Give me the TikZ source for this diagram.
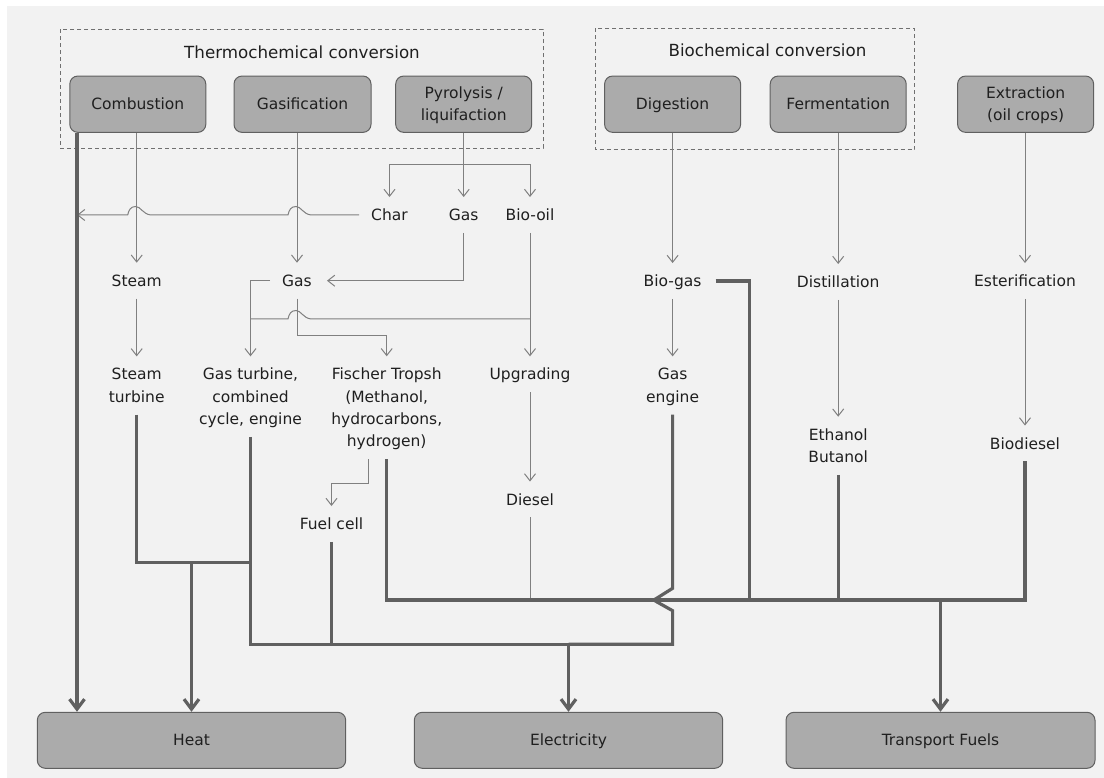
\documentclass[tikz,border=0pt]{standalone}
\usepackage{fontspec}
\setmainfont{DejaVu Sans}
\usetikzlibrary{arrows.meta,calc}
\definecolor{bggray}{HTML}{F2F2F2}
\definecolor{boxfill}{HTML}{ABABAB}
\definecolor{boxline}{HTML}{606060}
\definecolor{thinc}{HTML}{808080}
\definecolor{thickc}{HTML}{606060}
\definecolor{txt}{HTML}{1F1F1F}
\definecolor{framec}{HTML}{707070}
\newcommand\bodyfont{\fontsize{15.5}{22.3}\selectfont}
\newcommand\titlefont{\fontsize{16.7}{22.3}\selectfont}
\newcommand\lnst{\rule[-5.55pt]{0pt}{22.3pt}}
\begin{document}
\begin{tikzpicture}[x=1pt,y=-1pt,
  proc/.style={draw=boxline, fill=boxfill, line width=1pt, rounded corners=8pt,
    minimum width=136pt, minimum height=56.3pt, inner sep=0pt, align=center,
    font=\bodyfont, text=txt},
  sink/.style={proc, minimum width=308.4pt, minimum height=56pt},
  lbl/.style={inner xsep=12pt, inner ysep=0pt, align=center, font=\bodyfont,
    text=txt, minimum height={(#1-1)*22.3pt+35.5pt}},
  lbl/.default=1,
  ttl/.style={font=\titlefont, text=txt, inner sep=0pt},
  frame/.style={draw=framec, line width=1pt, dash pattern=on 4pt off 3pt},
  thinln/.style={draw=thinc, line width=1pt},
  thinarr/.style={thinln, -{Straight Barb[length=7pt,width=11pt]}},
  thickln/.style={draw=thickc, line width=3.2pt},
  thickarr/.style={thickln, -{Straight Barb[length=10pt,width=15pt]}},
  hop/.style={insert path={-- ($(#1)+(14,0)$) .. controls +(-8,-1) and +(5,0) .. ($(#1)+(-1,-8.5)$) .. controls +(-5,0) and +(1,-5) .. ($(#1)+(-9,0)$)}}
]
\useasboundingbox (0,0) rectangle (1104,778);
\fill[white] (0,0) rectangle (1104,778);
\fill[bggray] (7,6) rectangle (1104,778);

% group frames
\draw[frame] (60,29.5) rectangle (543,148.5);
\draw[frame] (595,28.5) rectangle (914.5,150);
\node[ttl] (ttherm) at (302,52) {Thermochemical conversion};
\node[ttl] (tbio) at (767.5,50.5) {Biochemical conversion};

% process boxes
\node[proc] (comb) at (137.8,104.2) {\lnst Combustion};
\node[proc, minimum width=137pt] (gasi) at (302.5,104.2) {\lnst Gasification};
\node[proc] (pyro) at (463.7,104.2) {\lnst Pyrolysis /\\\lnst liquifaction};
\node[proc] (dige) at (672.6,104.2) {\lnst Digestion};
\node[proc] (ferm) at (838.2,104.2) {\lnst Fermentation};
\node[proc] (extr) at (1025.6,104.2) {\lnst Extraction\\\lnst (oil crops)};

% output boxes
\node[sink] (heat) at (191.5,740.3) {\lnst Heat};
\node[sink] (elec) at (568.5,740.3) {\lnst Electricity};
\node[sink, minimum width=309pt] (trans) at (940.5,740.3) {\lnst Transport Fuels};

% intermediate labels
\node[lbl] (char) at (389.5,215) {\lnst Char};
\node[lbl] (gas2) at (463.7,215) {\lnst Gas};
\node[lbl] (biooil) at (530,215) {\lnst Bio-oil};
\node[lbl] (steam) at (136.7,280.7) {\lnst Steam};
\node[lbl] (gas) at (297,280.7) {\lnst Gas};
\node[lbl] (biogas) at (672.6,281) {\lnst Bio-gas};
\node[lbl] (dist) at (838.2,282) {\lnst Distillation};
\node[lbl] (ester) at (1025,281) {\lnst Esterification};
\node[lbl=2] (stturb) at (136.7,385.5) {\lnst Steam\\\lnst turbine};
\node[lbl=3] (gasturb) at (250.5,396.6) {\lnst Gas turbine,\\\lnst combined\\\lnst cycle, engine};
\node[lbl=4] (fischer) at (386.7,407.7) {\lnst Fischer Tropsh\\\lnst (Methanol,\\\lnst hydrocarbons,\\\lnst hydrogen)};
\node[lbl] (upgr) at (530,374.3) {\lnst Upgrading};
\node[lbl=2] (gaseng) at (672.6,385.5) {\lnst Gas\\\lnst engine};
\node[lbl=2] (ethanol) at (838.2,445.8) {\lnst Ethanol\\\lnst Butanol};
\node[lbl] (biodiesel) at (1025,443.5) {\lnst Biodiesel};
\node[lbl] (fuelcell) at (331.5,524) {\lnst Fuel cell};
\node[lbl] (diesel) at (530,499.5) {\lnst Diesel};

% junction coordinates
\coordinate (pyrojn) at (463.7,164.5);
\coordinate (biojn) at (530,319);
\coordinate (gsplit) at (297,335.7);
\coordinate (fcjn) at (368.2,483.3);
\coordinate (hsplit) at (191.5,562.7);
\coordinate (esplit) at (568.5,644.3);
\coordinate (tsplit) at (940.5,600);
\coordinate (bgturn) at (749.5,281);
\coordinate (combx) at (77,0);
\coordinate (h1) at (char.west -| gas);
\coordinate (h2) at (char.west -| steam);
\coordinate (h3) at (biojn -| gas);
\coordinate (jgc) at (gaseng.south |- tsplit);

% thin connectors
\draw[thinarr] (comb.south -| steam) -- (steam.north);
\draw[thinarr] (gasi.south -| gas) -- (gas.north);
\draw[thinarr] (pyro.south) -- (gas2.north);
\draw[thinarr] (pyrojn) -| (char.north);
\draw[thinarr] (pyrojn) -| (biooil.north);
\draw[thinarr] (char.west) [hop=h1] [hop=h2] -- (char.west -| combx);
\draw[thinarr] (gas2.south) |- ([xshift=3pt]gas.east);
\draw[thinarr] (gas.west) -| (gasturb.north);
\draw[thinarr] (gas.south) -- (gsplit) -| (fischer.north);
\draw[thinln] (biojn) [hop=h3] -- (biojn -| gasturb);
\draw[thinarr] (biooil.south) -- (upgr.north);
\draw[thinarr] (steam.south) -- (stturb.north);
\draw[thinarr] (upgr.south) -- (diesel.north);
\draw[thinarr] (fischer.south -| fcjn) -- (fcjn) -| (fuelcell.north);
\draw[thinarr] (dige.south -| biogas) -- (biogas.north);
\draw[thinarr] (biogas.south) -- (gaseng.north);
\draw[thinarr] (ferm.south -| dist) -- (dist.north);
\draw[thinarr] (dist.south) -- (ethanol.north);
\draw[thinarr] (extr.south -| ester) -- (ester.north);
\draw[thinarr] (ester.south) -- (biodiesel.north);
\draw[thinln] (diesel.south) -- (diesel.south |- tsplit);

% thick connectors
\draw[thickarr] (comb.south -| combx) -- (heat.north -| combx);
\draw[thickln] (stturb.south) |- (hsplit -| gasturb);
\draw[thickarr] (hsplit) -- (heat.north);
\draw[thickln] (gasturb.south) |- (esplit);
\draw[thickln] (fuelcell.south) -- (fuelcell.south |- esplit);
\draw[thickln] (gaseng.south) -- ($(jgc)+(0,-11.7)$) -- ($(jgc)+(-15,-2.3)$)
  .. controls ($(jgc)+(-19,0)$) .. ($(jgc)+(-15,2.3)$) -- ($(jgc)+(0,10.7)$) |- (esplit);
\draw[thickarr] (esplit) -- (elec.north);
\draw[thickln] (fischer.south) |- (tsplit);
\draw[thickln] (biodiesel.south) |- (tsplit);
\draw[thickln] (ethanol.south) -- (ethanol.south |- tsplit);
\draw[thickln] ([xshift=2pt]biogas.east) -- (bgturn) -- (bgturn |- tsplit);
\draw[thickarr] (tsplit) -- (trans.north);
\end{tikzpicture}
\end{document}
